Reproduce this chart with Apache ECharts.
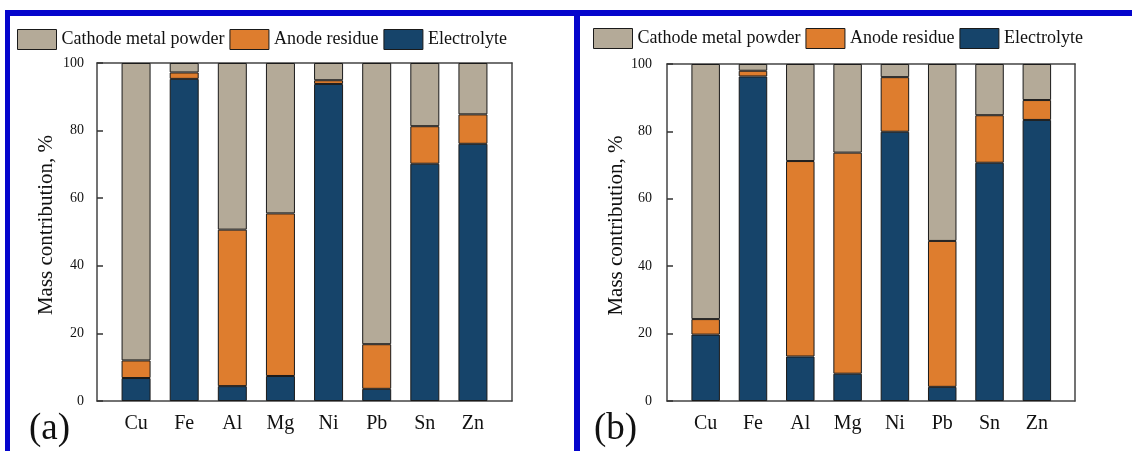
<!DOCTYPE html>
<html>
<head>
<meta charset="utf-8">
<script src="https://cdn.jsdelivr.net/npm/echarts@6/dist/echarts.min.js"></script>
<style>html,body{margin:0;padding:0;background:#fff}#c{width:1132px;height:451px}</style>
</head>
<body>
<div id="c"></div>
<script>
const categories = ['Cu','Fe','Al','Mg','Ni','Pb','Sn','Zn'];
const seriesNames = ['Cathode metal powder','Anode residue','Electrolyte'];
const yTicks = [0, 100, 20];
// panel (a)
const aElectrolyte = [6.8, 95.3, 4.4, 7.4, 93.8, 3.6, 70.2, 76.1];
const aAnode       = [5.2, 1.9, 46.3, 48.1, 1.1, 13.2, 11.1, 8.7];
const aCathode     = [88.0, 2.8, 49.3, 44.5, 5.1, 83.2, 18.7, 15.2];
// panel (b)
const bElectrolyte = [19.7, 96.3, 13.2, 8.1, 79.9, 4.2, 70.7, 83.4];
const bAnode       = [4.6, 1.7, 58.0, 65.6, 16.2, 43.3, 14.1, 5.9];
const bCathode     = [75.7, 2.0, 28.8, 26.3, 3.9, 52.5, 15.2, 10.7];

const FONT = 'Liberation Serif';
const colors = {cath:'#b4aa98', anode:'#de7d2e', elec:'#16446a'};
const frameLine = {show:true, onZero:false, lineStyle:{color:'#444', width:1.5}};

function frameAxes(gi, tickFont, tickMargin){
  return {
    x:[
      {type:'value', gridIndex:gi, min:0, max:1, position:'bottom', axisLine:frameLine, axisTick:{show:false}, axisLabel:{show:false}, splitLine:{show:false}},
      {type:'value', gridIndex:gi, min:0, max:1, position:'top', axisLine:frameLine, axisTick:{show:false}, axisLabel:{show:false}, splitLine:{show:false}}
    ],
    y:[
      {type:'value', gridIndex:gi, min:yTicks[0], max:yTicks[1], interval:yTicks[2], position:'left',
       axisLine:frameLine, axisTick:{show:true, inside:true, length:6, lineStyle:{color:'#333', width:1.5}},
       axisLabel:{fontFamily:FONT, fontSize:tickFont, color:'#111', margin:tickMargin},
       splitLine:{show:false},
       name:'Mass contribution, %', nameLocation:'middle', nameGap:40,
       nameTextStyle:{fontFamily:FONT, fontSize:21, color:'#111', padding:[0,0,0,14]}},
      {type:'value', gridIndex:gi, min:yTicks[0], max:yTicks[1], position:'right', axisLine:frameLine, axisTick:{show:false}, axisLabel:{show:false}, splitLine:{show:false}}
    ]
  };
}
function innerAxes(gi){
  return {
    x:{type:'category', gridIndex:gi, data:categories, axisLine:{show:false}, axisTick:{show:false},
       axisLabel:{fontFamily:FONT, fontSize:20, color:'#111', margin:13}},
    y:{type:'value', gridIndex:gi, min:yTicks[0], max:yTicks[1], show:false}
  };
}
const fa = frameAxes(0, 14, 13), ia = innerAxes(1), fb = frameAxes(2, 14, 15), ib = innerAxes(3);
const xAxis = [fa.x[0], fa.x[1], ia.x, fb.x[0], fb.x[1], ib.x];
const yAxis = [fa.y[0], fa.y[1], ia.y, fb.y[0], fb.y[1], ib.y];

function bars(name, data, color, xi, yi, stack, bw){
  return {type:'bar', name, data, stack, xAxisIndex:xi, yAxisIndex:yi, barWidth:bw,
    itemStyle:{color, borderColor:'#1a1a1a', borderWidth:1}, emphasis:{disabled:true}, animation:false};
}
const series = [
  bars(seriesNames[2], aElectrolyte, colors.elec, 2, 2, 'a', 29),
  bars(seriesNames[1], aAnode, colors.anode, 2, 2, 'a', 29),
  bars(seriesNames[0], aCathode, colors.cath, 2, 2, 'a', 29),
  bars(seriesNames[2], bElectrolyte, colors.elec, 5, 5, 'b', 28.5),
  bars(seriesNames[1], bAnode, colors.anode, 5, 5, 'b', 28.5),
  bars(seriesNames[0], bCathode, colors.cath, 5, 5, 'b', 28.5)
];
const legendCommon = {data:seriesNames, icon:'rect', itemWidth:39, itemHeight:20, itemGap:5, padding:0, selectedMode:false,
  itemStyle:{borderColor:'#1a1a1a', borderWidth:1},
  textStyle:{fontFamily:FONT, fontSize:18, color:'#111'}};
const blue = '#0505cc';
const chart = echarts.init(document.getElementById('c'), null, {renderer:'canvas'});
chart.setOption({
  animation:false,
  backgroundColor:'#fff',
  title:[
    {text:'(a)', left:24, top:406, textStyle:{fontFamily:FONT, fontSize:37, fontWeight:'normal', color:'#111'}},
    {text:'(b)', left:589, top:406, textStyle:{fontFamily:FONT, fontSize:37, fontWeight:'normal', color:'#111'}}
  ],
  legend:[
    Object.assign({left:17, top:29}, legendCommon),
    Object.assign({left:593, top:28}, legendCommon)
  ],
  grid:[
    {left:97, top:63, width:415, height:338},
    {left:112, top:63, width:385, height:338},
    {left:667, top:64, width:408, height:337},
    {left:682, top:64, width:378.5, height:337}
  ],
  xAxis, yAxis, series,
  graphic:[
    {type:'rect', shape:{x:5, y:10, width:1127, height:6}, style:{fill:blue}, silent:true},
    {type:'rect', shape:{x:5, y:10, width:5, height:441}, style:{fill:blue}, silent:true},
    {type:'rect', shape:{x:574, y:10, width:6, height:441}, style:{fill:blue}, silent:true}
  ]
});
</script>
</body>
</html>
